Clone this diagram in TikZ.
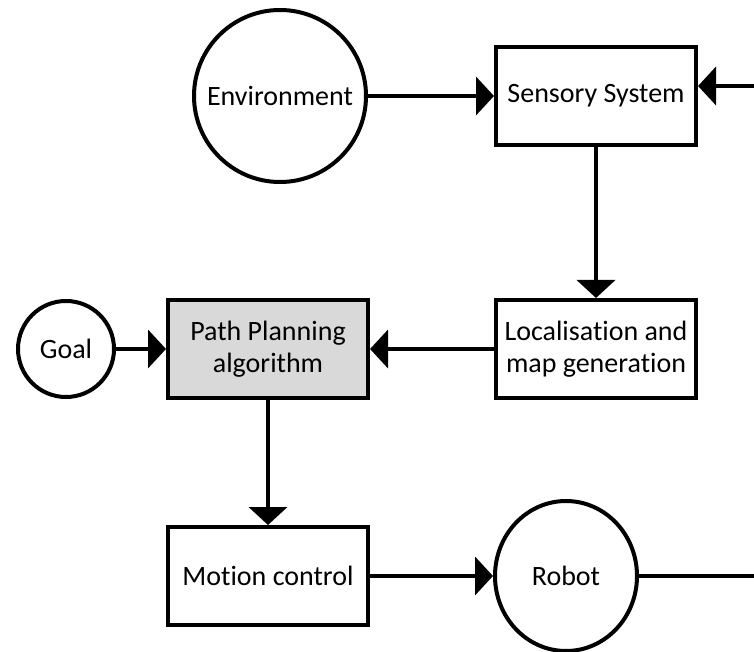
\documentclass[tikz,border=0pt]{standalone}
\usepackage{fontspec}
\setmainfont{Carlito}[Ligatures=NoCommon]
\usetikzlibrary{arrows.meta,shapes.geometric}
\definecolor{boxgray}{RGB}{217,217,217}
\tikzset{
  every node/.style={font=\fontsize{28}{32}\selectfont, align=center, line width=4pt, inner sep=0pt},
  blockbox/.style={draw, rectangle, minimum width=200pt, minimum height=98pt},
  roundnode/.style={draw, circle},
  arr/.style={line width=4pt, -{Triangle[length=18pt,width=38pt]}},
  plain/.style={line width=4pt}
}
\begin{document}
\begin{tikzpicture}[x=1pt,y=1pt]
  \useasboundingbox (0,0) rectangle (754,651);

  % blocks
  \node[blockbox] (sens) at (596,555) {Sensory System};
  \node[blockbox] (loc)  at (596,302) {Localisation and\\map generation};
  \node[blockbox, fill=boxgray] (plan) at (268,302) {Path Planning\\algorithm};
  \node[blockbox] (motion) at (268,75) {Motion control};

  % round nodes
  \node[roundnode, minimum size=172pt] (env)  at (280,555) {Environment};
  \node[roundnode, minimum size=96pt]  (goal) at (66,302)  {Goal};
  \node[draw, ellipse, minimum width=142pt, minimum height=150pt] (robot) at (566,75) {Robot};

  % ends of the feedback loop
  \coordinate (fbout) at (754,75);
  \coordinate (fbin)  at (754,565);

  % connectors
  \draw[arr] (env) -- (sens);
  \draw[arr] (sens) -- (loc);
  \draw[arr] (loc) -- (plan);
  \draw[arr] (goal) -- (plan);
  \draw[arr] (plan) -- (motion);
  \draw[arr] (motion) -- (robot);
  \draw[plain] (robot) -- (fbout);
  \draw[arr] (fbin) -- (fbin -| sens.east);
\end{tikzpicture}
\end{document}
